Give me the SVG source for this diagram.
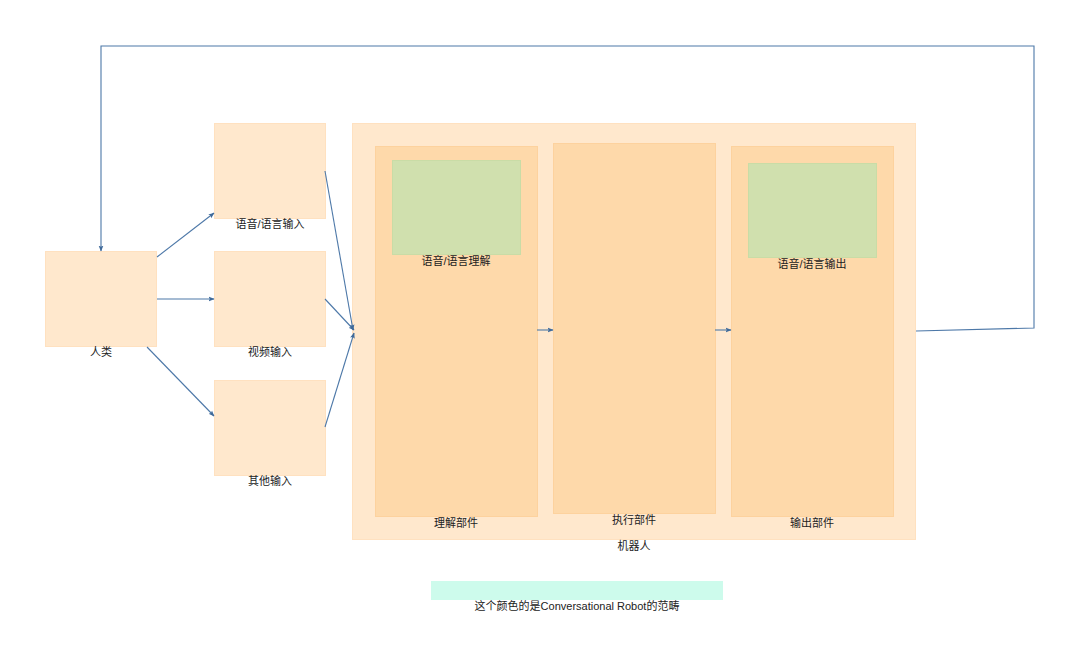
<svg xmlns="http://www.w3.org/2000/svg" width="1080" height="658" viewBox="0 0 1080 658">
<style>
.lt{fill:#ffe8cd;stroke:#ffe1c0;stroke-width:1}
.or{fill:#fed9aa;stroke:#fdd29e;stroke-width:1}
.gr{fill:#d0e0ae;stroke:#c9dca6;stroke-width:1}
.lg{fill:#cdfbec}
text{font-family:"Liberation Sans","Noto Sans CJK SC",sans-serif;font-size:11px;fill:#222;text-anchor:middle}
.c{fill:none;stroke:#4d78a8;stroke-width:1.1}
</style>
<defs>
<marker id="a" viewBox="0 0 10 10" refX="9" refY="5" markerWidth="6" markerHeight="6" orient="auto" markerUnits="userSpaceOnUse">
<path d="M0,1 L10,5 L0,9 L2,5 z" fill="#3f6a9a"/>
</marker>
</defs>
<g id="robot"><rect class="lt" x="352.5" y="123.5" width="563" height="416"/><text x="634" y="550">机器人</text></g>
<g id="understand"><rect class="or" x="375.5" y="146.5" width="162" height="370"/><text x="456" y="527">理解部件</text></g>
<g id="nlu"><rect class="gr" x="392.5" y="160.5" width="128" height="94"/><text x="456" y="265">语音/语言理解</text></g>
<g id="exec"><rect class="or" x="553.5" y="143.5" width="162" height="370"/><text x="634" y="524">执行部件</text></g>
<g id="output"><rect class="or" x="731.5" y="146.5" width="162" height="370"/><text x="812" y="527">输出部件</text></g>
<g id="nlg"><rect class="gr" x="748.5" y="163.5" width="128" height="94"/><text x="812" y="268">语音/语言输出</text></g>
<g id="human"><rect class="lt" x="45.5" y="251.5" width="111" height="95"/><text x="101" y="356">人类</text></g>
<g id="in1"><rect class="lt" x="214.5" y="123.5" width="111" height="95"/><text x="270" y="228">语音/语言输入</text></g>
<g id="in2"><rect class="lt" x="214.5" y="251.5" width="111" height="95"/><text x="270" y="356">视频输入</text></g>
<g id="in3"><rect class="lt" x="214.5" y="380.5" width="111" height="95"/><text x="270" y="485">其他输入</text></g>
<g id="legend"><rect class="lg" x="431" y="581" width="292" height="19"/><text x="577" y="610">这个颜色的是Conversational Robot的范畴</text></g>
<g id="connectors">
<path class="c" d="M157,257 L214,213" marker-end="url(#a)"/>
<path class="c" d="M157,299 L214,299" marker-end="url(#a)"/>
<path class="c" d="M147,347 L214,416" marker-end="url(#a)"/>
<path class="c" d="M325,171 L353,330" marker-end="url(#a)"/>
<path class="c" d="M325,299 L354,330" marker-end="url(#a)"/>
<path class="c" d="M325,427 L354,333" marker-end="url(#a)"/>
<path class="c" d="M537,330 L553,330" marker-end="url(#a)"/>
<path class="c" d="M715,330 L731,330" marker-end="url(#a)"/>
<path class="c" d="M916,331 L1034,328 L1034,46 L101,46 L101,251" marker-end="url(#a)"/>
</g>
</svg>
